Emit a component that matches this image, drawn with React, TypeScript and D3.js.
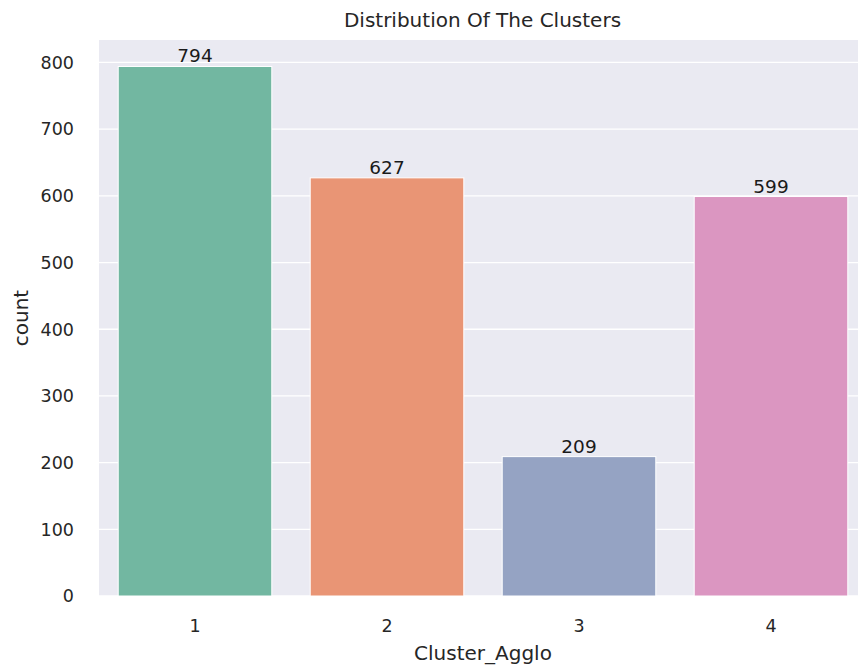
import React from "react";
import * as d3 from "d3";

const categories = ["1", "2", "3", "4"];
const counts = [794, 627, 209, 599];
const colors = ["#72b7a1", "#e99575", "#95a3c3", "#db96c1"];
const yTicks = [0, 100, 200, 300, 400, 500, 600, 700, 800];
const title = "Distribution Of The Clusters";
const xLabel = "Cluster_Agglo";
const yLabel = "count";

const W = 858;
const H = 669;
const M = { left: 99, right: 867, top: 40, bottom: 596 };
const font = "'DejaVu Sans', sans-serif";
const textColor = "#262626";

export default function App() {
  const x = d3
    .scaleBand<string>()
    .domain(categories)
    .range([M.left, M.right])
    .paddingInner(0.2)
    .paddingOuter(0.1);
  const yMax = d3.max(counts)! * 1.05;
  const y = d3.scaleLinear().domain([0, yMax]).range([M.bottom, M.top]);

  return (
    <svg width={W} height={H} style={{ display: "block", position: "absolute", left: 0, top: 0 }}>
      <rect x={0} y={0} width={W} height={H} fill="#ffffff" />
      <rect x={M.left} y={M.top} width={M.right - M.left} height={M.bottom - M.top} fill="#eaeaf2" />
      {yTicks.map((t) => (
        <line key={"g" + t} x1={M.left} x2={M.right} y1={y(t)} y2={y(t)} stroke="#ffffff" strokeWidth={1.3} />
      ))}
      {categories.map((c, i) => (
        <rect
          key={"b" + c}
          x={x(c)!}
          y={y(counts[i])}
          width={x.bandwidth()}
          height={y(0) - y(counts[i])}
          fill={colors[i]}
          stroke="#ffffff"
          strokeWidth={1}
        />
      ))}
      {categories.map((c, i) => (
        <text
          key={"v" + c}
          x={x(c)! + x.bandwidth() / 2}
          y={y(counts[i]) - 4}
          textAnchor="middle"
          fontFamily={font}
          fontSize={18.5}
          fill="#1a1a1a"
        >
          {counts[i]}
        </text>
      ))}
      {yTicks.map((t) => (
        <text
          key={"yt" + t}
          x={74}
          y={y(t)}
          dy="0.36em"
          textAnchor="end"
          fontFamily={font}
          fontSize={17.5}
          fill={textColor}
        >
          {t}
        </text>
      ))}
      {categories.map((c) => (
        <text
          key={"xt" + c}
          x={x(c)! + x.bandwidth() / 2}
          y={632}
          textAnchor="middle"
          fontFamily={font}
          fontSize={17.5}
          fill={textColor}
        >
          {c}
        </text>
      ))}
      <text x={(M.left + M.right) / 2 - 0.5} y={27} textAnchor="middle" fontFamily={font} fontSize={20} fill={textColor}>
        {title}
      </text>
      <text x={(M.left + M.right) / 2} y={660} textAnchor="middle" fontFamily={font} fontSize={20} fill={textColor}>
        {xLabel}
      </text>
      <text
        transform={`translate(28,${(M.top + M.bottom) / 2}) rotate(-90)`}
        textAnchor="middle"
        fontFamily={font}
        fontSize={20}
        fill={textColor}
      >
        {yLabel}
      </text>
    </svg>
  );
}
